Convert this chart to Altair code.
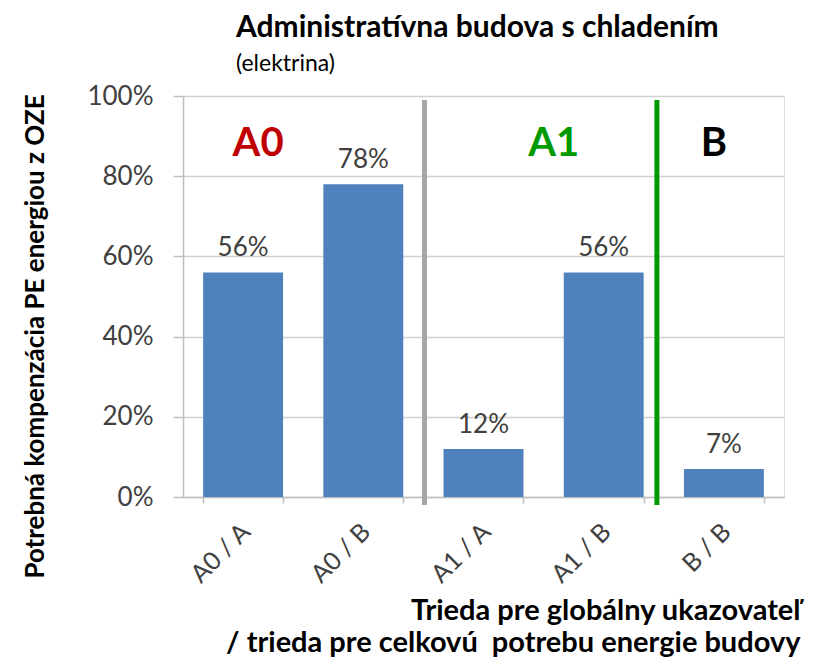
import altair as alt
import pandas as pd

categories = ["A0 / A", "A0 / B", "A1 / A", "A1 / B", "B / B"]
values = [0.56, 0.78, 0.12, 0.56, 0.07]
value_labels = ["56%", "78%", "12%", "56%", "7%"]

section_names = ["A0", "A1", "B"]
section_colors = ["#C00000", "#009900", "#000000"]
section_anchor = ["A0 / A", "A1 / B", "B / B"]
section_level = 0.88

separator_cats = ["A1 / A", "B / B"]
separator_colors = ["#A6A6A6", "#009900"]

FONT = "Lato"
W, H = 601, 401

df = pd.DataFrame({"cat": categories, "val": values, "lab": value_labels})

xscale = alt.Scale(domain=categories, paddingInner=0.335, paddingOuter=0.1675)
yscale = alt.Scale(domain=[0, 1])

x_enc = alt.X(
    "cat:N",
    scale=xscale,
    sort=categories,
    axis=alt.Axis(
        title=["Trieda pre globálny ukazovateľ", "/ trieda pre celkovú\u00a0 potrebu energie budovy"],
        titleFont=FONT, titleFontSize=29, titleFontWeight="bold", titleColor="#000000",
        titleAnchor="end", titleAlign="right", titleBaseline="alphabetic",
        titleX=W + 16, titleY=122, titleLineHeight=32,
        labelAngle=-45, labelFont=FONT, labelFontSize=25, labelColor="#404040",
        labelPadding=16, labelOffset=-6,
        tickBand="extent", tickSize=6, tickColor="#BFBFBF", tickWidth=1.5,
        domainColor="#BFBFBF", domainWidth=1.5, grid=False,
    ),
)
y_enc = alt.Y(
    "val:Q",
    scale=yscale,
    axis=alt.Axis(
        title="Potrebná kompenzácia PE energiou z OZE",
        titleFont=FONT, titleFontSize=26, titleFontWeight="bold", titleColor="#000000",
        titleAngle=-90, titleBaseline="middle", titleAlign="center",
        titleX=-148, titleY=240,
        format=".0%", values=[0, 0.2, 0.4, 0.6, 0.8, 1.0],
        labelFont=FONT, labelFontSize=26, labelColor="#404040", labelPadding=20,
        tickSize=10, tickColor="#BFBFBF", tickWidth=1.5,
        domainColor="#BFBFBF", domainWidth=1.5,
        gridColor="#D0D0D0", gridWidth=1.5,
    ),
)

bars = alt.Chart(df).mark_bar(color="#4F81BD").encode(x=x_enc, y=y_enc)

labels = alt.Chart(df).mark_text(
    font=FONT, fontSize=26, color="#404040", baseline="alphabetic", dy=-16
).encode(x=alt.X("cat:N", scale=xscale, sort=categories), y=alt.Y("val:Q", scale=yscale), text="lab:N")

sep_df = pd.DataFrame({"cat": separator_cats, "color": separator_colors})
sep_layers = []
for i, offs in enumerate([-59, -67]):
    sep_layers.append(
        alt.Chart(sep_df.iloc[[i]]).mark_rule(strokeWidth=5, xOffset=offs).encode(
            x=alt.X("cat:N", scale=xscale, sort=categories),
            y=alt.value(4), y2=alt.value(H + 8),
            color=alt.Color("color:N", scale=None),
        )
    )

sec_df = pd.DataFrame({"cat": section_anchor, "name": section_names, "color": section_colors,
                       "lvl": [section_level] * 3})
sec_layers = []
for i, dx in enumerate([15, -50, -10]):
    sec_layers.append(
        alt.Chart(sec_df.iloc[[i]]).mark_text(
            font=FONT, fontSize=40, fontWeight="bold", baseline="middle", dx=dx
        ).encode(
            x=alt.X("cat:N", scale=xscale, sort=categories),
            y=alt.Y("lvl:Q", scale=yscale),
            text="name:N",
            color=alt.Color("color:N", scale=None),
        )
    )

chart = alt.layer(bars, labels, *sep_layers, *sec_layers).properties(
    width=W, height=H,
    autosize=alt.AutoSizeParams(type="none"),
    padding={"left": 175, "top": 88, "right": 23, "bottom": 160},
    title=alt.TitleParams(
        text="Administratívna budova s chladením",
        subtitle="(elektrina)",
        anchor="start", frame="group", dx=53, offset=7,
        font=FONT, fontSize=30, fontWeight="bold", color="#000000",
        subtitleFont=FONT, subtitleFontSize=23, subtitleColor="#000000",
        subtitlePadding=10,
    ),
).configure_view(stroke="#BFBFBF", strokeWidth=1.5).configure(background="white")

chart.save("out.html", embed_options={"renderer": "svg", "actions": False})
